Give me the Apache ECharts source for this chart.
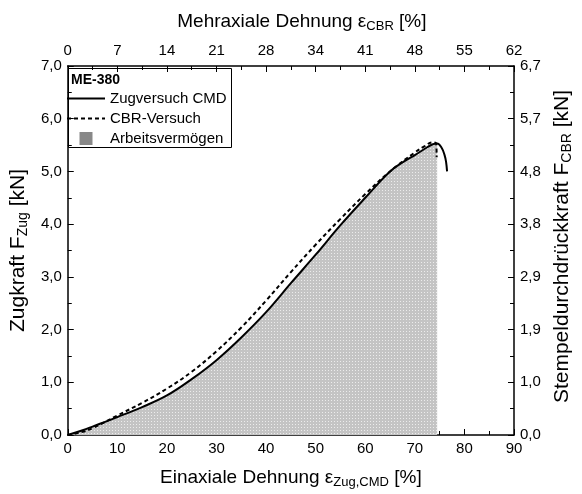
<!DOCTYPE html>
<html><head><meta charset="utf-8">
<script src="https://cdn.jsdelivr.net/npm/echarts@6/dist/echarts.min.js"></script>
<style>html,body{margin:0;padding:0;background:#fff}#c{width:582px;height:494px}</style>
</head><body><div id="c"></div>
<script>
// Zugversuch CMD (solid)
var strainZug = [0, 3, 5, 10, 15, 20, 25, 30, 35, 40, 45, 50, 55, 60, 65, 68, 70, 72, 73.5, 74.5, 75.4, 76.0, 76.3, 76.5];
var forceZug  = [0, 0.09, 0.16, 0.34, 0.53, 0.75, 1.06, 1.42, 1.85, 2.33, 2.88, 3.42, 3.98, 4.50, 5.00, 5.20, 5.31, 5.43, 5.51, 5.53, 5.45, 5.31, 5.18, 5.00];
// CBR-Versuch (dashed)
var strainCBR = [0, 3, 5, 10, 15, 20, 25, 30, 35, 40, 45, 50, 55, 60, 65, 70, 72, 73.5, 74.3, 74.4];
var forceCBR  = [0, 0.06, 0.13, 0.37, 0.61, 0.88, 1.20, 1.59, 2.04, 2.55, 3.09, 3.61, 4.10, 4.57, 5.00, 5.36, 5.48, 5.55, 5.53, 5.27];
// end of the Arbeitsvermögen area
var workLimit = 74.5;
var bottomTicks = [0, 10, 20, 30, 40, 50, 60, 70, 80, 90];
var topScaleMax = 62;   // Mehraxiale Dehnung at 90 %
var rightScaleMax = 6.7; // Stempeldurchdrückkraft at 7 kN

function pairs(xs, ys){ return xs.map(function(x,i){ return [x, ys[i]]; }); }
var zugData = pairs(strainZug, forceZug);
var cbrData = pairs(strainCBR, forceCBR);
var workData = zugData.filter(function(p){ return p[0] <= workLimit; });

var pat = document.createElement('canvas');
pat.width = 3; pat.height = 3;
var pc = pat.getContext('2d');
pc.fillStyle = '#c4c4c4'; pc.fillRect(0,0,3,3);
pc.fillStyle = '#ececec'; pc.fillRect(1,1,1,1);

function comma(v, d){ return v.toFixed(d).replace('.', ','); }

var FONT = 'Liberation Sans, Arial, sans-serif';
function rich(size, sub, pad){
  return {
    a: {fontSize: size, fontFamily: FONT, color: '#000'},
    s: {fontSize: sub, fontFamily: FONT, color: '#000', verticalAlign: 'bottom', padding: [pad,0,0,0]}
  };
}
function axisCommon(extra){
  var o = {
    type: 'value',
    axisLine: {show: true, onZero: false, lineStyle: {color: '#000', width: 1.5}},
    axisTick: {show: true, inside: true, length: 6, lineStyle: {color: '#000', width: 1}},
    minorTick: {show: true, splitNumber: 2, length: 4, lineStyle: {color: '#000', width: 1}},
    splitLine: {show: false},
    axisLabel: {color: '#000', fontSize: 15, fontFamily: FONT, margin: 6},
    nameLocation: 'middle'
  };
  for (var k in extra) {
    if (typeof extra[k] === 'object' && o[k] && !Array.isArray(extra[k])) {
      for (var j in extra[k]) o[k][j] = extra[k][j];
    } else o[k] = extra[k];
  }
  return o;
}

var chart = echarts.init(document.getElementById('c'), null, {renderer: 'canvas'});
chart.setOption({
  animation: false,
  backgroundColor: '#fff',
  grid: {left: 65, right: 57, top: 66, bottom: 58, containLabel: false},
  title: {text: 'ME-380', left: 71, top: 73, padding: [0,0,0,0], textStyle: {fontSize: 14, fontWeight: 'bold', fontFamily: FONT, color: '#000'}},
  legend: {
    orient: 'vertical', left: 66, top: 91, padding: 0, itemWidth: 38, itemHeight: 13, itemGap: 5,
    textStyle: {fontSize: 15, fontFamily: FONT, color: '#000'},
    itemStyle: {opacity: 0},
    data: [
      {name: 'Zugversuch CMD'},
      {name: 'CBR-Versuch'},
      {name: 'Arbeitsvermögen', icon: 'path://M0,0h10v10h-10z', itemStyle: {color: '#888888', opacity: 1}}
    ]
  },
  graphic: [{type: 'rect', left: 66, top: 66, shape: {width: 163, height: 79}, style: {fill: 'none', stroke: '#000', lineWidth: 1}, z: 100}],
  xAxis: [
    axisCommon({min: 0, max: 90, interval: 10, position: 'bottom',
      name: '{a|Einaxiale Dehnung ε}{s|Zug,CMD}{a| [%]}', nameGap: 32,
      nameTextStyle: {rich: rich(19, 13, 9)},
      axisLabel: {formatter: function(v){ return bottomTicks.indexOf(v) >= 0 ? String(v) : ''; }}}),
    axisCommon({min: 0, max: 90, interval: 10, position: 'top',
      name: '{a|Mehraxiale Dehnung ε}{s|CBR}{a| [%]}', nameGap: 33,
      nameTextStyle: {rich: rich(19, 13, 9), padding: [0, 0, 0, 22]},
      axisLabel: {margin: 8, formatter: function(v){ return String(Math.round(v * topScaleMax / 90)); }}})
  ],
  yAxis: [
    axisCommon({min: 0, max: 7, interval: 1, position: 'left',
      name: '{a|Zugkraft F}{s|Zug}{a| [kN]}', nameGap: 33,
      nameTextStyle: {rich: rich(21, 14, 9)},
      axisLabel: {formatter: function(v){ return comma(v, 1); }}}),
    axisCommon({min: 0, max: 7, interval: 1, position: 'right',
      name: '{a|Stempeldurchdrückkraft F}{s|CBR}{a| [kN]}', nameGap: 37, nameRotate: 90,
      nameTextStyle: {rich: rich(21, 14, 9), padding: [0, 0, 0, 8]},
      axisLabel: {formatter: function(v){ return comma(v * rightScaleMax / 7, 1); }}})
  ],
  series: [
    {name: 'Arbeitsvermögen', type: 'line', data: workData, symbol: 'none', smooth: 0.4,
     lineStyle: {width: 0, color: '#888888'}, itemStyle: {color: '#888888'},
     areaStyle: {color: {image: pat, repeat: 'repeat'}, opacity: 1}, z: 1},
    {name: 'Zugversuch CMD', type: 'line', data: zugData, symbol: 'none', smooth: 0.4,
     lineStyle: {color: '#000', width: 2}, itemStyle: {color: '#000'}, z: 3},
    {name: 'CBR-Versuch', type: 'line', data: cbrData, symbol: 'none', smooth: 0.4,
     lineStyle: {color: '#000', width: 2, type: [4, 3]}, itemStyle: {color: '#000'}, z: 2}
  ]
});
</script></body></html>
